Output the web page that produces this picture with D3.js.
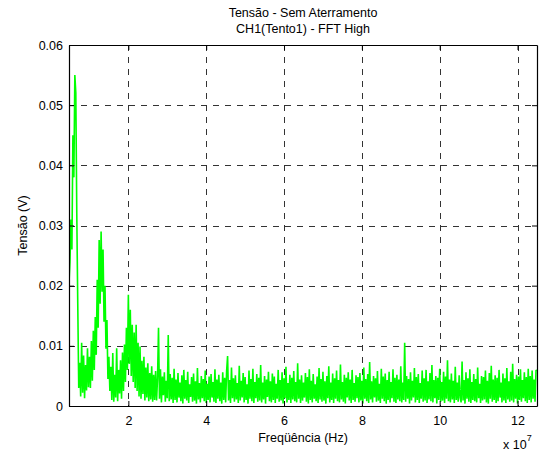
<!DOCTYPE html>
<html><head><meta charset="utf-8">
<script src="https://cdn.jsdelivr.net/npm/d3@7"></script>
<style>
body{margin:0;background:#fff;}
text{font-family:"Liberation Sans",Arial,sans-serif;}
</style></head>
<body><svg id="c" width="539" height="453"></svg>
<script>
// ---- data ----
const titleLines = ["Tensão - Sem Aterramento", "CH1(Tento1) - FFT High"];
const xLabel = "Freqüência (Hz)";
const yLabel = "Tensão (V)";
const xTicks = [2, 4, 6, 8, 10, 12];            // x 10^7 Hz
const yTicks = [0, 0.01, 0.02, 0.03, 0.04, 0.05, 0.06];
const yTickLabels = ["0", "0.01", "0.02", "0.03", "0.04", "0.05", "0.06"];
const xDomain = [0.475, 12.5];                  // x 10^7 Hz
const yDomain = [0, 0.06];
const freqStart = 0.475;                        // first FFT bin, x 10^7 Hz
const freqStep = 0.025;                         // bin spacing, x 10^7 Hz
// amplitude per bin, in mV
const amplitudeMv = [
 20.5,24,31,26,45,38,55,52,32,17,3,
 7.2,1.6,10.5,2.2,8.4,1.3,6.8,2.6,9.6,3.1,8.2,
 3.0,10.8,4.2,12.5,6.0,14.8,8.5,21,13,27.6,17,29,19,26,14,20,9.5,14.3,4.5,8.2,2.5,
 6.5,1.0,8.8,0.7,5.2,1.4,9.6,0.8,6.0,2.1,7.6,1.2,8.9,
 2.5,10.2,4.0,13,6,18.5,7,16,5,13.5,4,12.2,3,13.5,2.5,10.5,1.6,9.9,1.2,7.5,2.0,8.2,0.9,6.4,1.4,7.1,0.8,5.5,1.1,6.6,0.7,5.2,1.0,
 5.8,0.9,4.6,13.0,1.2,6.1,0.6,4.9,1.8,5.6,0.7,4.2,1.3,11.8,0.8,5.3,1.1,4.7,0.5,6.2,
 1.0,4.4,0.6,5.5,1.4,3.9,0.8,5.1,0.4,6.0,1.2,4.3,0.9,5.7,0.5,3.6,1.5,4.8,0.7,5.4,
 0.9,4.1,0.4,6.3,1.1,3.8,0.6,5.0,1.3,4.5,0.8,5.9,0.5,3.7,1.0,4.9,0.6,5.3,1.4,4.0,
 0.7,6.1,0.5,4.4,1.2,5.2,0.8,3.9,0.4,5.6,1.0,4.7,0.6,5.8,8.3,0.9,4.3,0.5,6.4,1.3,
 4.6,0.7,5.1,1.1,3.8,0.5,6.7,0.9,4.2,1.4,5.5,0.6,4.8,1.0,3.6,0.4,5.9,1.2,4.5,0.8,
 6.2,0.5,4.0,1.3,5.3,0.7,4.7,0.9,6.8,0.6,3.9,1.1,5.0,0.4,4.4,1.5,5.7,0.8,4.1,0.6,
 5.4,1.0,4.9,0.5,3.7,1.2,6.0,0.7,4.3,0.9,5.6,0.4,4.6,1.3,6.5,0.6,3.8,1.0,5.2,0.5,
 4.7,1.1,5.8,0.8,4.0,0.6,7.1,1.2,4.4,0.5,5.1,0.9,3.9,1.4,5.5,0.7,4.8,0.4,6.1,1.0,
 4.2,0.6,5.3,1.2,3.6,0.8,4.9,0.5,6.3,1.1,4.5,0.7,5.7,0.9,4.1,0.4,5.0,1.3,6.6,0.6,
 3.9,1.0,5.4,0.5,4.6,1.2,5.9,0.8,4.3,0.6,6.9,1.1,4.0,0.7,5.2,0.4,4.7,1.4,5.6,0.9,
 4.4,0.5,6.0,1.0,3.8,0.7,5.1,1.3,4.8,0.6,5.5,0.9,4.2,0.4,6.4,1.2,4.5,0.8,5.3,0.5,
 7.3,1.1,4.1,0.6,5.0,1.4,4.6,0.7,5.8,0.9,3.7,0.5,6.2,1.2,4.9,0.8,5.4,0.4,4.3,1.0,
 5.7,0.6,4.0,1.3,6.1,0.7,4.7,0.5,5.2,1.1,4.4,0.8,6.6,0.6,3.9,1.0,10.5,0.7,5.0,1.2,
 4.5,0.4,5.6,0.9,4.2,1.4,6.3,0.6,4.8,1.0,5.3,0.5,3.8,1.2,5.9,0.7,4.6,0.9,6.0,0.5,
 4.1,1.1,5.5,0.8,6.8,0.6,4.3,1.3,5.0,0.4,4.7,1.0,6.2,0.7,4.0,0.9,5.7,0.5,4.9,1.2,
 7.6,0.8,4.4,0.6,5.4,1.1,4.2,0.5,6.5,1.0,3.9,0.7,5.1,1.4,0.6,7.4,0.9,4.3,0.4,5.6,
 1.2,4.6,0.7,6.1,0.5,4.0,1.0,5.3,0.8,4.5,0.6,6.4,1.3,3.7,0.5,5.0,0.9,4.8,1.1,5.9,
 0.6,4.2,0.4,5.5,1.2,6.7,0.7,4.4,1.0,5.1,0.5,4.7,0.8,6.0,1.4,3.9,0.6,5.4,0.9,4.6,
 0.5,6.3,1.1,4.1,0.7,5.7,0.9,7.0,0.6,4.5,1.2,5.2,0.4,4.9,1.0,6.1,0.7,4.3,1.3,5.6,
 0.8,4.8,0.5,6.2,1.0,5.0,0.6,5.9,1.2,4.4,0.7,6.0,5.8
];

// ---- chart ----
const svg = d3.select("#c");
const L = 69, R = 537, T = 45, B = 406;
const x = d3.scaleLinear().domain(xDomain).range([L, R]);
const y = d3.scaleLinear().domain(yDomain).range([B, T]);
const points = amplitudeMv.map((v, i) => ({f: freqStart + i * freqStep, v: v / 1000}));

svg.append("defs").append("clipPath").attr("id", "clip")
  .append("rect").attr("x", L).attr("y", T).attr("width", R - L).attr("height", B - T);

// grid
const grid = svg.append("g").attr("stroke", "#333").attr("stroke-width", 1)
  .attr("stroke-dasharray", "6,6").attr("fill", "none");
xTicks.forEach(t => grid.append("line").attr("x1", Math.round(x(t)) + 0.5).attr("x2", Math.round(x(t)) + 0.5)
  .attr("y1", T).attr("y2", B));
yTicks.filter(t => t > 0 && t < 0.06).forEach(t => grid.append("line")
  .attr("x1", L).attr("x2", R).attr("y1", Math.round(y(t)) + 0.5).attr("y2", Math.round(y(t)) + 0.5));

// line
const line = d3.line().x(d => x(d.f)).y(d => y(d.v));
svg.append("path").datum(points).attr("clip-path", "url(#clip)")
  .attr("fill", "none").attr("stroke", "#00ff00").attr("stroke-width", 1.6)
  .attr("stroke-linejoin", "bevel").attr("d", line);

// axes
const fs = "12.5px";
const axB = svg.append("g").attr("transform", `translate(0,${B})`)
  .call(d3.axisBottom(x).tickValues(xTicks).tickSizeInner(-5).tickSizeOuter(0).tickPadding(10).tickFormat(d3.format("d")));
const axT = svg.append("g").attr("transform", `translate(0,${T})`)
  .call(d3.axisTop(x).tickValues(xTicks).tickSizeInner(-5).tickSizeOuter(0).tickFormat(""));
const axL = svg.append("g").attr("transform", `translate(${L},0)`)
  .call(d3.axisLeft(y).tickValues(yTicks).tickSizeInner(-5).tickSizeOuter(0).tickPadding(6).tickFormat((d, i) => yTickLabels[i]));
const axR = svg.append("g").attr("transform", `translate(${R},0)`)
  .call(d3.axisRight(y).tickValues(yTicks).tickSizeInner(-5).tickSizeOuter(0).tickFormat(""));
[axB, axT, axL, axR].forEach(a => {
  a.selectAll(".domain").attr("stroke", "#000").attr("stroke-width", 1.2);
  a.selectAll(".tick line").attr("stroke", "#000");
  a.selectAll("text").attr("fill", "#000").style("font-size", fs).style("font-family", '"Liberation Sans",Arial,sans-serif');
});

// titles
svg.append("text").attr("x", 303).attr("y", 17).attr("text-anchor", "middle").style("font-size", fs).text(titleLines[0]);
svg.append("text").attr("x", 303).attr("y", 33).attr("text-anchor", "middle").style("font-size", fs).text(titleLines[1]);
svg.append("text").attr("x", 303).attr("y", 442).attr("text-anchor", "middle").style("font-size", fs).text(xLabel);
svg.append("text").attr("transform", `translate(27,${(T + B) / 2}) rotate(-90)`).attr("text-anchor", "middle")
  .style("font-size", fs).text(yLabel);
const mult = svg.append("text").attr("x", 503).attr("y", 449).style("font-size", fs);
mult.append("tspan").text("x 10");
mult.append("tspan").attr("dy", -8).style("font-size", "9px").text("7");
</script></body></html>
